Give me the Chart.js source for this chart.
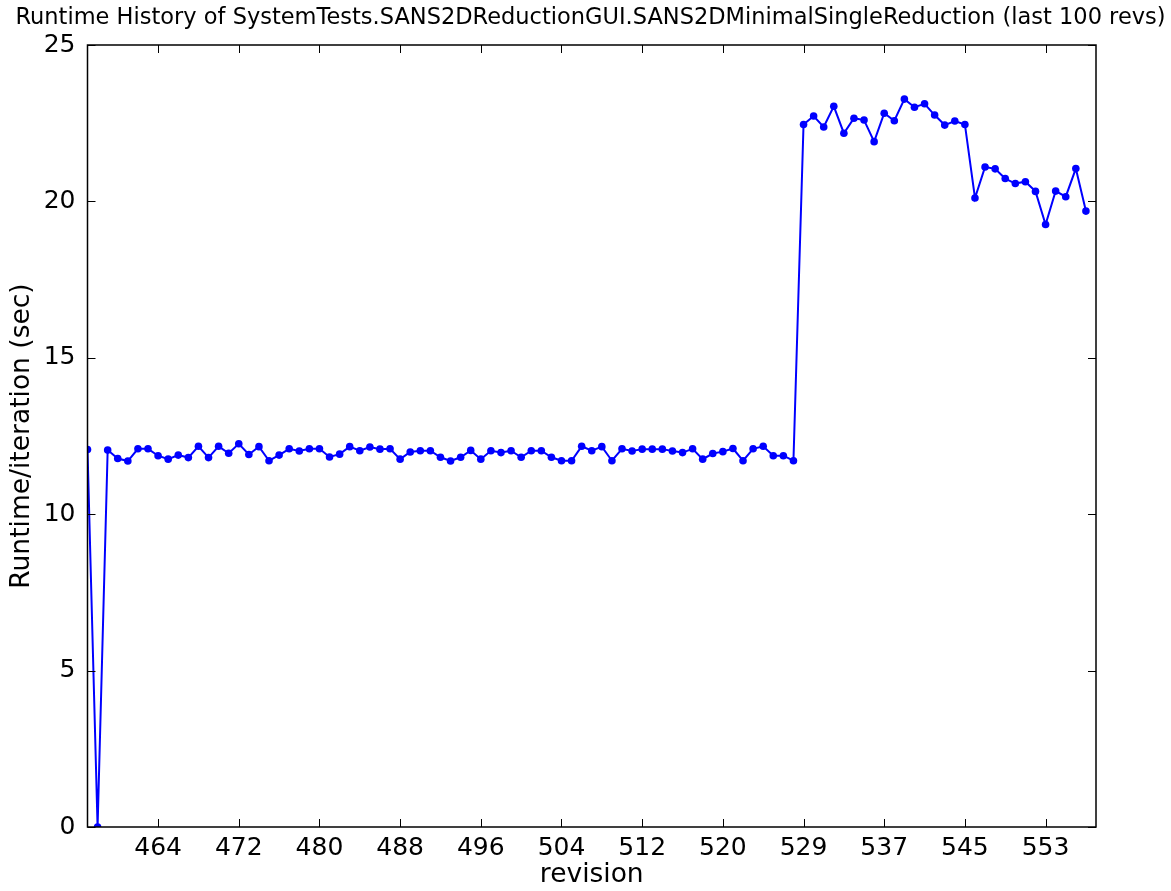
<!DOCTYPE html>
<html>
<head>
<meta charset="utf-8">
<script src="https://cdn.jsdelivr.net/npm/chart.js@4/dist/chart.umd.min.js"></script>
<style>
  html, body { margin: 0; padding: 0; background: #fff; }
  #wrap { width: 1171px; height: 891px; }
</style>
</head>
<body>
<div id="wrap"><canvas id="runtimechart" width="1171" height="891"></canvas></div>
<script>
// Runtime per iteration, one value per revision (index 0 = oldest of last 100)
const runtimes = [
  12.07, 0.00, 12.05, 11.78, 11.70, 12.09, 12.09, 11.87, 11.76, 11.89,
  11.81, 12.17, 11.81, 12.17, 11.95, 12.25, 11.91, 12.16, 11.71, 11.89,
  12.09, 12.02, 12.09, 12.09, 11.83, 11.92, 12.16, 12.03, 12.15, 12.08,
  12.09, 11.76, 11.99, 12.03, 12.03, 11.82, 11.70, 11.82, 12.04, 11.76,
  12.03, 11.97, 12.03, 11.82, 12.03, 12.03, 11.82, 11.71, 11.71, 12.17,
  12.03, 12.16, 11.71, 12.09, 12.02, 12.08, 12.08, 12.08, 12.02, 11.97,
  12.09, 11.76, 11.94, 12.00, 12.10, 11.71, 12.09, 12.17, 11.87, 11.87,
  11.71, 22.46, 22.73, 22.38, 23.04, 22.18, 22.66, 22.60, 21.91, 22.82,
  22.58, 23.27, 23.01, 23.12, 22.76, 22.44, 22.57, 22.46, 20.11, 21.10,
  21.04, 20.73, 20.57, 20.63, 20.32, 19.26, 20.33, 20.15, 21.05, 19.69
];

// revision labels shown on the x axis, and the point index each one sits at
const tickLabels = ['464', '472', '480', '488', '496', '504', '512', '520', '529', '537', '545', '553'];
const tickIndex = [7, 15, 23, 31, 39, 47, 55, 63, 71, 79, 87, 95];
const yTicks = [0, 5, 10, 15, 20, 25];

const titleText = 'Runtime History of SystemTests.SANS2DReductionGUI.SANS2DMinimalSingleReduction (last 100 revs)';

const points = runtimes.map((v, i) => ({ x: i, y: v }));

// frame + inward tick marks on all four sides (matplotlib look)
const frameTicks = {
  id: 'frameTicks',
  afterDraw(chart) {
    const ctx = chart.ctx;
    const a = chart.chartArea;
    const xs = chart.scales.x, ys = chart.scales.y;
    const len = 8;
    ctx.save();
    ctx.strokeStyle = '#000';
    ctx.lineWidth = 1;
    ctx.beginPath();
    tickIndex.forEach(v => {
      const px = Math.round(xs.getPixelForValue(v)) + 0.5;
      ctx.moveTo(px, a.bottom); ctx.lineTo(px, a.bottom - len);
      ctx.moveTo(px, a.top); ctx.lineTo(px, a.top + len);
    });
    yTicks.forEach(v => {
      const py = Math.round(ys.getPixelForValue(v)) + 0.5;
      ctx.moveTo(a.left, py); ctx.lineTo(a.left + len, py);
      ctx.moveTo(a.right, py); ctx.lineTo(a.right - len, py);
    });
    ctx.stroke();
    ctx.lineWidth = 1.5;
    ctx.strokeRect(a.left, a.top, a.right - a.left, a.bottom - a.top);
    ctx.restore();
  }
};

const chart = new Chart(document.getElementById('runtimechart'), {
  type: 'line',
  data: {
    datasets: [{
      data: points,
      borderColor: '#0000ff',
      backgroundColor: '#0000ff',
      borderWidth: 2,
      pointRadius: 3.8,
      pointBorderWidth: 0,
      pointHoverRadius: 3.8,
      tension: 0,
      fill: false
    }]
  },
  options: {
    responsive: false,
    animation: false,
    events: [],
    parsing: false,
    layout: { padding: { left: 10, right: 0, top: 0, bottom: 0 } },
    plugins: {
      legend: { display: false },
      tooltip: { enabled: false },
      title: {
        display: true,
        text: titleText,
        fullSize: true,
        color: '#000',
        font: { family: 'DejaVu Sans', size: 22.5, weight: 'normal' },
        padding: { top: 5, bottom: 13 }
      }
    },
    scales: {
      x: {
        type: 'linear',
        min: 0,
        max: 100,
        grid: { display: false, drawTicks: false },
        border: { display: false },
        afterBuildTicks: (scale) => { scale.ticks = tickIndex.map(v => ({ value: v })); },
        afterFit: (scale) => { scale.height = 64; },
        ticks: {
          autoSkip: false,
          maxRotation: 0,
          padding: 6,
          color: '#000',
          font: { family: 'DejaVu Sans', size: 25 },
          callback: (value) => tickLabels[tickIndex.indexOf(value)]
        },
        title: {
          display: true,
          text: 'revision',
          color: '#000',
          font: { family: 'DejaVu Sans', size: 26.5 },
          padding: { top: 0, bottom: 0 }
        }
      },
      y: {
        min: 0,
        max: 25,
        grid: { display: false, drawTicks: false },
        border: { display: false },
        afterBuildTicks: (scale) => { scale.ticks = yTicks.map(v => ({ value: v })); },
        afterFit: (scale) => { scale.width = 77.5; },
        ticks: {
          padding: 12,
          color: '#000',
          font: { family: 'DejaVu Sans', size: 25 }
        },
        title: {
          display: true,
          text: 'Runtime/iteration (sec)',
          color: '#000',
          font: { family: 'DejaVu Sans', size: 26.5 },
          padding: { top: -4, bottom: 0 }
        }
      },
      // empty right-hand spacer so the plot stops where the reference frame does
      yr: {
        position: 'right',
        min: 0,
        max: 25,
        grid: { display: false, drawTicks: false },
        border: { display: false },
        ticks: { display: false },
        afterFit: (scale) => { scale.width = 75; }
      }
    }
  },
  plugins: [frameTicks]
});
</script>
</body>
</html>
